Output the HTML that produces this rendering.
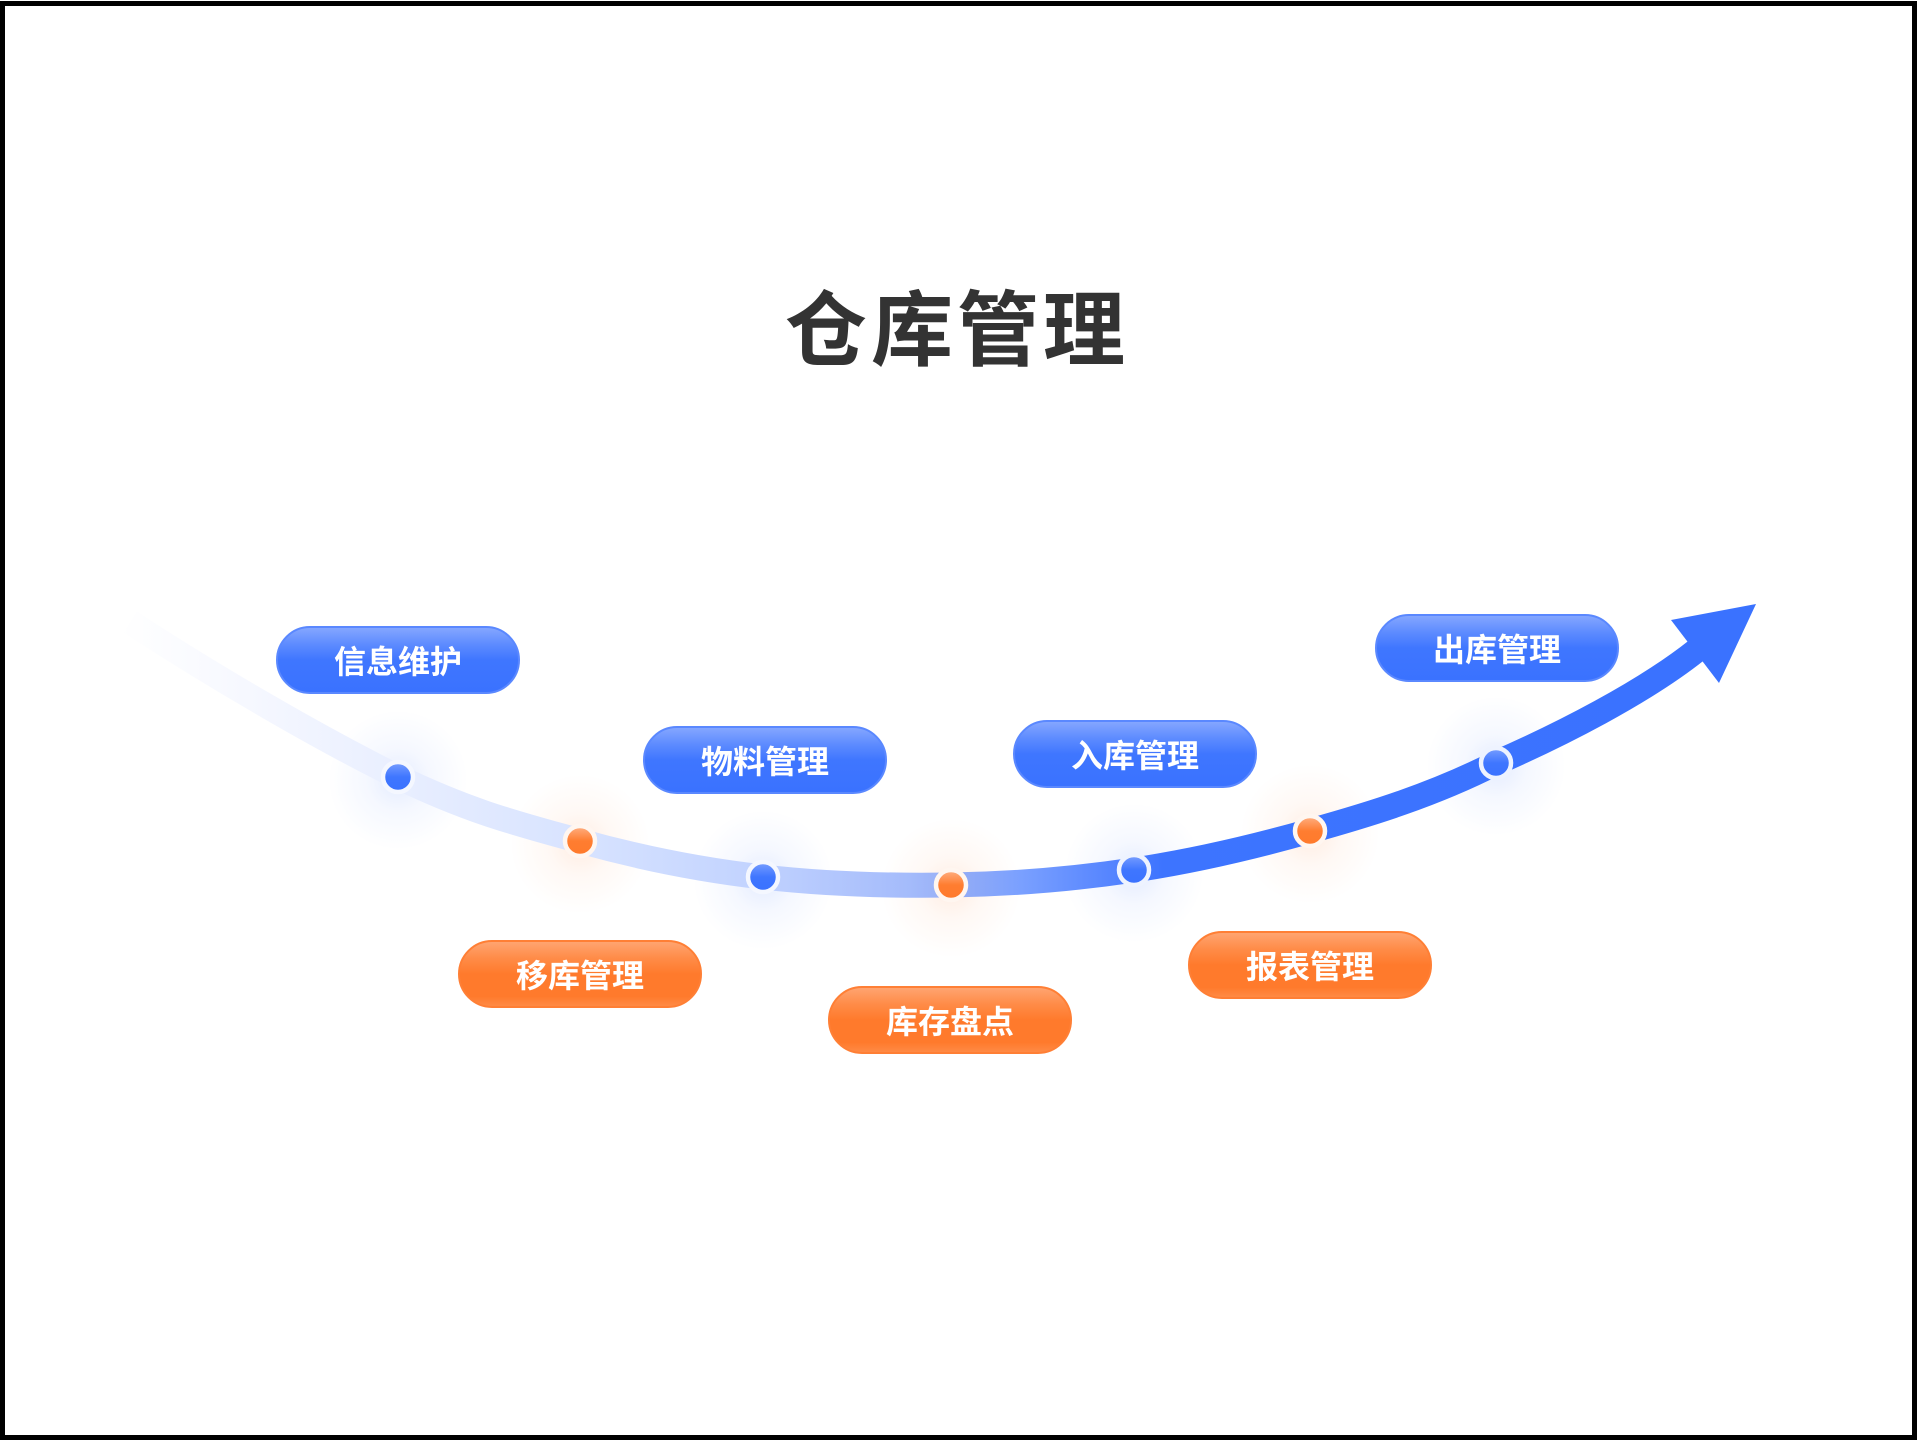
<!DOCTYPE html>
<html>
<head>
<meta charset="utf-8">
<style>
  html, body { margin:0; padding:0; }
  body { width:1920px; height:1440px; position:relative; background:#fff; overflow:hidden;
         font-family:"Liberation Sans","Noto Sans CJK SC",sans-serif; }
  .frame { position:absolute; left:0; top:1px; width:1917px; height:1439px; border:5px solid #000; box-sizing:border-box; }
  .title { position:absolute; left:785px; top:291px; height:82px; line-height:82px; font-size:82px; font-weight:700;
           letter-spacing:4px; color:#333; white-space:nowrap;
           font-family:"Liberation Sans","Noto Sans CJK SC",sans-serif; }
  svg.main { position:absolute; left:0; top:0; }
  .pill { position:absolute; width:244px; height:68px; border-radius:34px; box-sizing:border-box;
          display:flex; align-items:center; justify-content:center; color:#fff; font-size:32px; font-weight:700;
          font-family:"Liberation Sans","Noto Sans CJK SC",sans-serif; white-space:nowrap; }
  .blue { background:linear-gradient(to bottom,#84a6ff 0%,#5e8cff 25%,#3f76ff 50%,#3a72ff 100%); border:2px solid #5a88ff; }
  .orange { background:linear-gradient(to bottom,#ffa470 0%,#ff8c48 25%,#ff7a2c 50%,#ff7a2c 85%,#ff8a45 100%); border:2px solid #ff7f35; }
</style>
</head>
<body>
<div class="frame"></div>
<div class="title">仓库管理</div>

<svg class="main" width="1920" height="1440" viewBox="0 0 1920 1440">
  <defs>
    <linearGradient id="band" gradientUnits="userSpaceOnUse" x1="120" y1="0" x2="1700" y2="0">
      <stop offset="0" stop-color="#ffffff"/>
      <stop offset="0.08" stop-color="#f6f8ff"/>
      <stop offset="0.18" stop-color="#e8eeff"/>
      <stop offset="0.30" stop-color="#d6e2ff"/>
      <stop offset="0.40" stop-color="#c2d3ff"/>
      <stop offset="0.50" stop-color="#a4bbfb"/>
      <stop offset="0.53" stop-color="#94acf5"/>
      <stop offset="0.57" stop-color="#7aa0ff"/>
      <stop offset="0.62" stop-color="#5a88ff"/>
      <stop offset="0.66" stop-color="#3d74ff"/>
      <stop offset="1" stop-color="#3a72ff"/>
    </linearGradient>
    <radialGradient id="glowB">
      <stop offset="0" stop-color="#3a72ff" stop-opacity="0.14"/>
      <stop offset="0.45" stop-color="#3a72ff" stop-opacity="0.05"/>
      <stop offset="1" stop-color="#3a72ff" stop-opacity="0"/>
    </radialGradient>
    <radialGradient id="glowO">
      <stop offset="0" stop-color="#ff7a2c" stop-opacity="0.14"/>
      <stop offset="0.45" stop-color="#ff7a2c" stop-opacity="0.05"/>
      <stop offset="1" stop-color="#ff7a2c" stop-opacity="0"/>
    </radialGradient>
    <linearGradient id="dotB" x1="0" y1="0" x2="0" y2="1">
      <stop offset="0" stop-color="#7a9fff"/>
      <stop offset="0.5" stop-color="#3f76ff"/>
      <stop offset="1" stop-color="#3a72ff"/>
    </linearGradient>
    <linearGradient id="dotO" x1="0" y1="0" x2="0" y2="1">
      <stop offset="0" stop-color="#ffb186"/>
      <stop offset="0.5" stop-color="#ff7d30"/>
      <stop offset="1" stop-color="#ff7a2c"/>
    </linearGradient>
  </defs>

  <!-- glows -->
  <circle cx="398" cy="780" r="70" fill="url(#glowB)"/>
  <circle cx="580" cy="844" r="70" fill="url(#glowO)"/>
  <circle cx="763" cy="880" r="70" fill="url(#glowB)"/>
  <circle cx="951" cy="888" r="70" fill="url(#glowO)"/>
  <circle cx="1134" cy="873" r="70" fill="url(#glowB)"/>
  <circle cx="1310" cy="834" r="70" fill="url(#glowO)"/>
  <circle cx="1496" cy="766" r="70" fill="url(#glowB)"/>

  <!-- band -->
  <path d="M130,622
           C219,680 323,740 398,777
           C473,813 519,824 580,841
           C641,858 701,870 763,877
           C825,884 889,886 951,885
           C1013,884 1074,879 1134,870
           C1194,861 1250,848 1310,831
           C1371,814 1433,795 1496,763
           C1560,735 1643,693 1697,650"
        fill="none" stroke="url(#band)" stroke-width="25" stroke-linecap="butt"/>
  <!-- arrow head -->
  <polygon points="1671,620 1719,683 1756,604" fill="#3a72ff"/>

  <!-- dots -->
  <g stroke="#ffffff" stroke-width="4.5">
    <circle cx="398" cy="777" r="15" fill="url(#dotB)" stroke="#f4f7ff"/>
    <circle cx="580" cy="841" r="15" fill="url(#dotO)" stroke="#fff6f0"/>
    <circle cx="763" cy="877" r="15" fill="url(#dotB)" stroke="#f4f7ff"/>
    <circle cx="951" cy="885" r="15" fill="url(#dotO)" stroke="#fff6f0"/>
    <circle cx="1134" cy="870" r="15" fill="url(#dotB)" stroke="#eef3ff"/>
    <circle cx="1310" cy="831" r="15" fill="url(#dotO)" stroke="#fff6f0"/>
    <circle cx="1496" cy="763" r="15" fill="url(#dotB)" stroke="#eef3ff"/>
  </g>
</svg>

<div class="pill blue" style="left:276px;top:626px;">信息维护</div>
<div class="pill blue" style="left:643px;top:726px;">物料管理</div>
<div class="pill blue" style="left:1013px;top:720px;">入库管理</div>
<div class="pill blue" style="left:1375px;top:614px;">出库管理</div>
<div class="pill orange" style="left:458px;top:940px;">移库管理</div>
<div class="pill orange" style="left:828px;top:986px;">库存盘点</div>
<div class="pill orange" style="left:1188px;top:931px;">报表管理</div>
</body>
</html>
